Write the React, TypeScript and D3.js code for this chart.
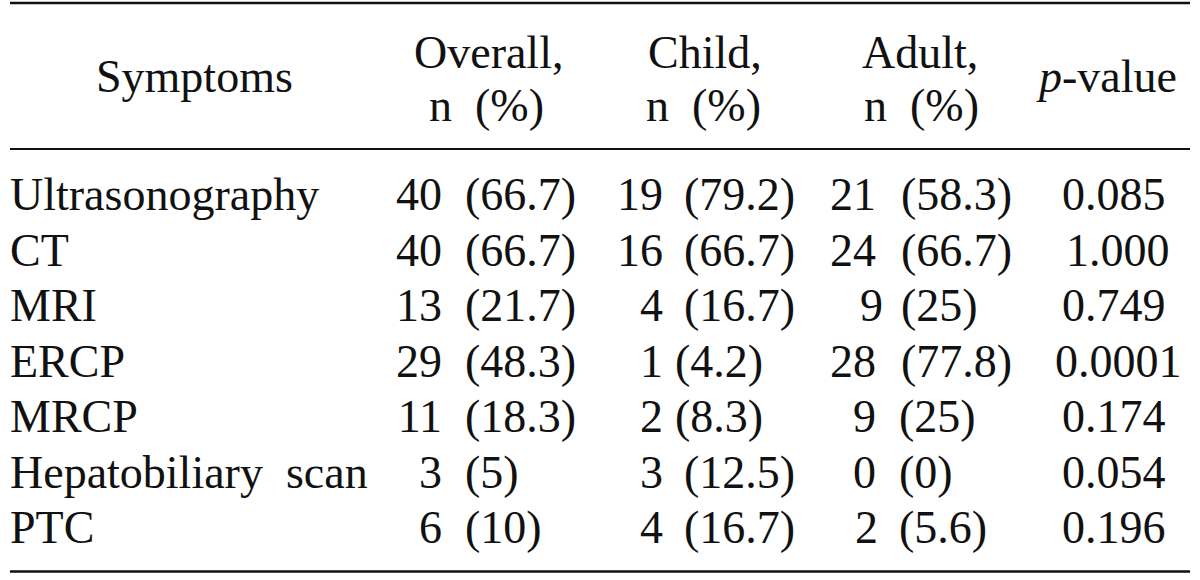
import React from "react";
import * as d3 from "d3";

const headers = ["Symptoms", "Overall,", "Child,", "Adult,"];
const subHeader = "n  (%)";
const rowLabels = ["Ultrasonography", "CT", "MRI", "ERCP", "MRCP", "Hepatobiliary  scan", "PTC"];
const overallN = ["40", "40", "13", "29", "11", "3", "6"];
const overallPct = ["(66.7)", "(66.7)", "(21.7)", "(48.3)", "(18.3)", "(5)", "(10)"];
const childN = ["19", "16", "4", "1", "2", "3", "4"];
const childPct = ["(79.2)", "(66.7)", "(16.7)", "(4.2)", "(8.3)", "(12.5)", "(16.7)"];
const adultN = ["21", "24", "9", "28", "9", "0", "2"];
const adultPct = ["(58.3)", "(66.7)", "(25)", "(77.8)", "(25)", "(0)", "(5.6)"];
const pValues = ["0.085", "1.000", "0.749", "0.0001", "0.174", "0.054", "0.196"];

// layout: n values are right-aligned at nEnd, percentages start at pStart
const L = {
  overallNEnd: [442, 442, 442, 442, 442, 442, 442],
  overallP: [465, 465, 465, 465, 465, 465, 465],
  childNEnd: [663, 663, 663, 663, 663, 663, 663],
  childP: [684, 684, 684, 675, 675, 684, 684],
  adultNEnd: [876, 876, 883, 876, 876, 876, 878],
  adultP: [901, 901, 901, 901, 899, 899, 899],
  p: [1062, 1066, 1062, 1055, 1062, 1062, 1062],
};

const W = 1200;
const H = 580;
const FONT = "'Liberation Serif', 'Times New Roman', Times, serif";
const FS = 46;

export default function App() {
  const y = d3.scaleLinear().domain([0, rowLabels.length - 1]).range([210, 543]);
  const startCols: [string[], number[]][] = [
    [overallPct, L.overallP],
    [childPct, L.childP],
    [adultPct, L.adultP],
    [pValues, L.p],
  ];
  const endCols: [string[], number[]][] = [
    [overallN, L.overallNEnd],
    [childN, L.childNEnd],
    [adultN, L.adultNEnd],
  ];
  const lineX0 = 10;
  const lineX1 = 1190;
  return (
    <svg
      width={W}
      height={H}
      style={{ position: "absolute", left: 0, top: 0, background: "#fff" }}
      fontFamily={FONT}
      fontSize={FS}
      fill="#111"
    >
      <rect width={W} height={H} fill="#fff" />
      <line x1={lineX0} x2={lineX1} y1={3} y2={3} stroke="#111" strokeWidth={2.5} />
      <line x1={lineX0} x2={lineX1} y1={149} y2={149} stroke="#111" strokeWidth={2.2} />
      <line x1={lineX0} x2={lineX1} y1={571.5} y2={571.5} stroke="#111" strokeWidth={2.5} />

      <text x={96} y={92}>{headers[0]}</text>
      <text x={414} y={68}>{headers[1]}</text>
      <text x={429} y={121} style={{ whiteSpace: "pre" }}>{subHeader}</text>
      <text x={648} y={68}>{headers[2]}</text>
      <text x={646} y={121} style={{ whiteSpace: "pre" }}>{subHeader}</text>
      <text x={862} y={68}>{headers[3]}</text>
      <text x={864} y={121} style={{ whiteSpace: "pre" }}>{subHeader}</text>
      <text x={1039} y={92}>
        <tspan fontStyle="italic">p</tspan>
        <tspan>-value</tspan>
      </text>

      {rowLabels.map((lab, i) => (
        <text key={"r" + i} x={10} y={y(i)} style={{ whiteSpace: "pre" }}>{lab}</text>
      ))}
      {endCols.map(([vals, xs], c) =>
        vals.map((v, i) => (
          <text key={"e" + c + "-" + i} x={xs[i]} y={y(i)} textAnchor="end">{v}</text>
        ))
      )}
      {startCols.map(([vals, xs], c) =>
        vals.map((v, i) => (
          <text key={"s" + c + "-" + i} x={xs[i]} y={y(i)}>{v}</text>
        ))
      )}
    </svg>
  );
}
